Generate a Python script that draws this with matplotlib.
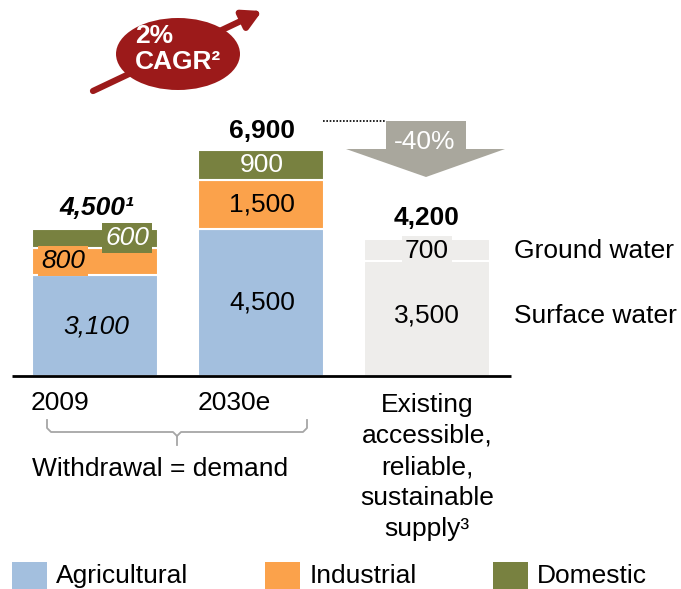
import matplotlib

matplotlib.use("Agg")
import matplotlib.pyplot as plt
from matplotlib.patches import Ellipse, Polygon, Rectangle

# --- data -----------------------------------------------------------------
categories = ["2009", "2030e"]
agricultural = [3100, 4500]
industrial = [800, 1500]
domestic = [600, 900]
demand_totals = ["4,500¹", "6,900"]

supply_surface = 3500
supply_ground = 700
supply_total = "4,200"
supply_label = ["Existing", "accessible,", "reliable,", "sustainable", "supply³"]

legend_names = ["Agricultural", "Industrial", "Domestic"]

# --- style ------------------------------------------------------------------
AGRI = "#A3BFDE"
IND = "#FBA24B"
DOM = "#788140"
SUPPLY = "#EEEDEB"
GREY_ARROW = "#A9A79D"
RED = "#9C1A1A"
BRACE = "#A6A6A6"
INK = "#000000"

plt.rcParams["font.family"] = ["Liberation Sans", "DejaVu Sans"]
FS = 19

K = 30.55       # data units per pixel on the value axis
BASE = 376      # pixel row of the zero line


def P(px, py):
    """pixel position (from top-left) -> data coordinates"""
    return px, (BASE - py) * K


fig = plt.figure(figsize=(6.81, 5.89), dpi=100)
ax = fig.add_axes([0, 0, 1, 1])
ax.set_xlim(0, 681)
ax.set_ylim((BASE - 589) * K, BASE * K)
ax.axis("off")

xs = [95, 261]
W = 126
bar_kw = dict(width=W, edgecolor="white", linewidth=1.5, zorder=2)
ax.bar(xs, agricultural, color=AGRI, **bar_kw)
ax.bar(xs, industrial, bottom=agricultural, color=IND, **bar_kw)
ax.bar(xs, domestic, bottom=[a + b for a, b in zip(agricultural, industrial)],
       color=DOM, **bar_kw)

xsup = 427
ax.bar([xsup], [supply_surface], color=SUPPLY, **bar_kw)
ax.bar([xsup], [supply_ground], bottom=[supply_surface], color=SUPPLY, **bar_kw)

# zero line
ax.plot([12, 511], [0, 0], color=INK, lw=2, solid_capstyle="butt", zorder=3)


def txt(px, py, s, **kw):
    kw.setdefault("fontsize", FS)
    kw.setdefault("ha", "center")
    kw.setdefault("va", "center")
    ax.text(*P(px, py), s, zorder=5, **kw)


# 2009 bar labels
txt(96, 327, f"{agricultural[0]:,}", style="italic")
txt(63, 261, f"{industrial[0]:,}", style="italic",
    bbox=dict(boxstyle="square,pad=0.12", fc=IND, ec="none"))
txt(127, 238, f"{domestic[0]:,}", style="italic", color="white",
    bbox=dict(boxstyle="square,pad=0.12", fc=DOM, ec="none"))
txt(97, 208, demand_totals[0], style="italic", weight="bold")

# 2030e bar labels
txt(262, 303, f"{agricultural[1]:,}")
txt(262, 205, f"{industrial[1]:,}")
txt(262, 165, f"{domestic[1]:,}", color="white")
txt(262, 131, demand_totals[1], weight="bold")

# supply bar labels
txt(427, 316, f"{supply_surface:,}")
txt(427, 251, f"{supply_ground:,}",
    bbox=dict(boxstyle="square,pad=0.1", fc=SUPPLY, ec="none"))
txt(427, 218, supply_total, weight="bold")
txt(514, 251, "Ground water", ha="left")
txt(514, 316, "Surface water", ha="left")

# category labels
txt(60, 403, categories[0])
txt(234, 403, categories[1])
for i, line in enumerate(supply_label):
    txt(427, 405 + 31 * i, line)

# brace under the demand bars
bx = [(47, 420), (47, 428), (51, 432), (173, 432), (177, 436), (177, 445)]
ax.plot(*zip(*[P(*p) for p in bx]), color=BRACE, lw=1.3)
bx2 = [(177, 436), (181, 432), (303, 432), (307, 428), (307, 420)]
ax.plot(*zip(*[P(*p) for p in bx2]), color=BRACE, lw=1.3)
txt(160, 469, "Withdrawal = demand")

# -40% arrow
ax.plot(*zip(P(323, 121), P(385, 121)), color=INK, lw=1.2, ls=(0, (1, 1)))
arrow = [(386, 121), (466, 121), (466, 149), (505, 149), (426, 177),
         (346, 149), (386, 149)]
ax.add_patch(Polygon([P(*p) for p in arrow], closed=True, fc=GREY_ARROW,
                     ec="none", zorder=4))
txt(425, 142, "-40%", color="white")

# CAGR bubble
ax.annotate("", xy=P(262, 11), xytext=P(93, 91),
            arrowprops=dict(arrowstyle="-|>,head_length=1.1,head_width=0.6",
                            lw=4.5, color=RED, shrinkA=0, shrinkB=0),
            zorder=4)
ax.add_patch(Ellipse(P(178, 54), 124, 72 * K, fc=RED, ec="none", zorder=5))
txt(135, 36, "2%", ha="left", color="white", weight="bold")
txt(135, 62, "CAGR²", ha="left", color="white", weight="bold")

# legend
for (sx, tx), name, col in zip([(12, 56), (265, 310), (493, 537)],
                               legend_names, [AGRI, IND, DOM]):
    ax.add_patch(Rectangle(P(sx, 589), 35, 27 * K, fc=col, ec="none"))
    txt(tx, 576, name, ha="left")

fig.savefig("out.png", dpi=100)
